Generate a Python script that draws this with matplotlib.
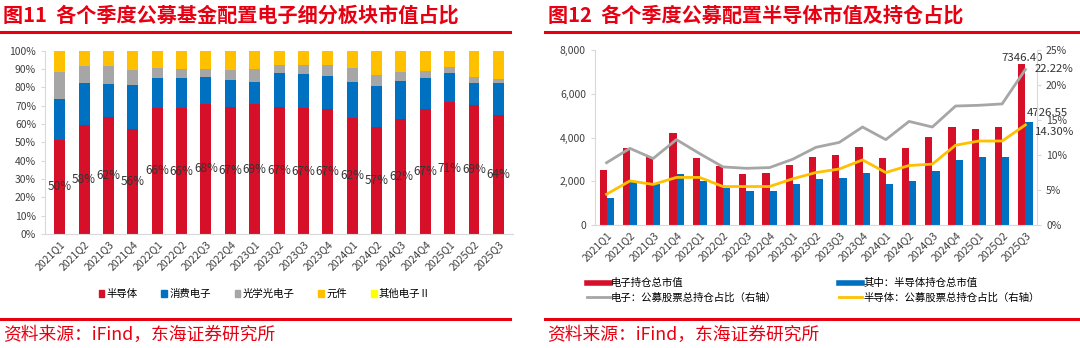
import numpy as np
import matplotlib
matplotlib.use("Agg")
import matplotlib.pyplot as plt
from matplotlib.patches import Patch
from matplotlib.lines import Line2D
from matplotlib.ticker import FuncFormatter

plt.rcParams['font.family'] = ['Noto Sans CJK SC', 'DejaVu Sans']

# quarters shared by both panels
quarters = ['2021Q1', '2021Q2', '2021Q3', '2021Q4', '2022Q1', '2022Q2', '2022Q3', '2022Q4',
            '2023Q1', '2023Q2', '2023Q3', '2023Q4', '2024Q1', '2024Q2', '2024Q3', '2024Q4',
            '2025Q1', '2025Q2', '2025Q3']

# left chart: share of each sub-sector (%)
semi_share = [51.3, 59.3, 63.6, 57.3, 68.9, 68.5, 71.1, 69.3, 70.7, 69.3, 68.5, 68.0,
              63.5, 58.2, 62.7, 68.0, 72.0, 70.5, 64.9]
consumer_share = [22.3, 23.1, 18.0, 23.8, 16.0, 16.4, 14.4, 14.7, 12.4, 18.3, 18.6, 18.2,
                  19.2, 22.5, 20.9, 16.9, 15.6, 11.9, 17.5]
optical_share = [14.9, 9.2, 10.0, 8.2, 5.6, 5.1, 4.5, 5.3, 6.9, 4.8, 5.3, 6.2,
                 7.8, 5.8, 4.8, 3.8, 3.7, 3.4, 2.0]
component_share = [11.1, 8.0, 8.0, 10.3, 9.1, 9.6, 9.6, 10.3, 9.6, 7.2, 7.2, 7.2,
                   9.1, 13.1, 11.2, 10.9, 8.3, 13.8, 15.2]
other_share = [0.4] * 19
semi_labels = ['50%', '58%', '62%', '56%', '66%', '66%', '68%', '67%', '69%', '67%', '67%',
               '67%', '62%', '57%', '62%', '67%', '71%', '69%', '64%']

# right chart: market value (100m CNY) and share of fund holdings (%)
elec_value = [2500, 3537, 3095, 4192, 3064, 2713, 2332, 2363, 2759, 3095, 3201, 3582,
              3064, 3537, 4024, 4466, 4390, 4466, 7346.40]
semi_value = [1250, 1951, 1875, 2317, 2012, 1707, 1570, 1570, 1875, 2104, 2134, 2363,
              1875, 2027, 2470, 2988, 3095, 3095, 4726.55]
elec_pct = [8.9, 10.95, 9.5, 12.2, 10.2, 8.3, 8.1, 8.2, 9.4, 11.1, 11.8, 14.0,
            12.2, 14.8, 14.0, 17.0, 17.1, 17.3, 22.22]
semi_pct = [4.4, 6.3, 5.8, 6.8, 6.8, 5.5, 5.5, 5.5, 6.6, 7.5, 8.0, 9.3,
            7.5, 8.5, 8.7, 11.4, 12.0, 12.0, 14.30]

RED = '#D7102A'
BLUE = '#0070C0'
GRAY = '#A6A6A6'
ORANGE = '#FFC000'
YELLOW = '#FFFF00'
TITLE_RED = '#E60012'
TXT = '#404040'
AXC = '#D9D9D9'

fig = plt.figure(figsize=(10.8, 3.48), dpi=100)
x = np.arange(len(quarters))

# ---- titles, rules, source lines
fig.text(0.003, 0.957, '图11  各个季度公募基金配置电子细分板块市值占比', color=TITLE_RED,
         fontsize=14.5, fontweight='bold', va='center')
fig.text(0.507, 0.957, '图12  各个季度公募配置半导体市值及持仓占比', color=TITLE_RED,
         fontsize=14.5, fontweight='bold', va='center')
for x0, x1 in [(0.0, 0.472), (0.505, 1.0)]:
    fig.add_artist(Line2D([x0, x1], [0.908, 0.908], color=TITLE_RED, lw=2.2))
    fig.add_artist(Line2D([x0, x1], [0.083, 0.083], color=TITLE_RED, lw=2.2))
fig.text(0.003, 0.037, '资料来源：iFind，东海证券研究所', color=TITLE_RED, fontsize=12.8, va='center')
fig.text(0.507, 0.037, '资料来源：iFind，东海证券研究所', color=TITLE_RED, fontsize=12.8, va='center')

# ---- left: stacked share bars
ax1 = fig.add_axes([0.0417, 0.3276, 0.4333, 0.5267])
w = 0.45
bottom = np.zeros(len(quarters))
series = [(semi_share, RED, '半导体'), (consumer_share, BLUE, '消费电子'),
          (optical_share, GRAY, '光学光电子'), (component_share, ORANGE, '元件'),
          (other_share, YELLOW, '其他电子Ⅱ')]
for vals, col, name in series:
    ax1.bar(x, vals, w, bottom=bottom, color=col, label=name)
    bottom += np.array(vals)
for i, lab in enumerate(semi_labels):
    ax1.text(x[i], semi_share[i] / 2, lab, ha='center', va='center', fontsize=8.5, color='#333333')
ax1.set_xlim(-0.6, len(quarters) - 0.4)
ax1.set_ylim(0, 100)
ax1.set_yticks(np.arange(0, 101, 10))
ax1.yaxis.set_major_formatter(FuncFormatter(lambda v, p: f'{v:.0f}%'))
ax1.set_xticks(x)
ax1.set_xticklabels(quarters, rotation=45, ha='right', rotation_mode='anchor')
ax1.tick_params(axis='both', labelsize=7.5, colors=TXT, length=0)
ax1.tick_params(axis='y', length=3, color=AXC)
for s in ['top', 'right']:
    ax1.spines[s].set_visible(False)
for s in ['left', 'bottom']:
    ax1.spines[s].set_color(AXC)
handles = [Patch(color=c, label=n) for _, c, n in series]
fig.legend(handles=handles, loc='center', bbox_to_anchor=(0.245, 0.155), ncol=5, frameon=False,
           fontsize=7.5, handlelength=0.55, handleheight=0.55, handletextpad=0.2, columnspacing=2.3)

# ---- right: value bars + holding share lines
ax2 = fig.add_axes([0.5509, 0.3534, 0.4093, 0.5029])
bw = 0.31
ax2.bar(x - 0.15, elec_value, bw, color=RED)
ax2.bar(x + 0.16, semi_value, bw, color=BLUE)
ax2.set_ylim(0, 8000)
ax2.set_yticks(np.arange(0, 8001, 2000))
ax2.yaxis.set_major_formatter(FuncFormatter(lambda v, p: f'{v:,.0f}'))
ax2.set_xlim(-0.5, len(quarters) - 0.5)
ax2.set_xticks(x)
ax2.set_xticklabels(quarters, rotation=45, ha='right', rotation_mode='anchor')
ax2.tick_params(axis='both', labelsize=7.5, colors=TXT, length=0)
ax2.tick_params(axis='y', length=3, color=AXC)
for s in ['top', 'right']:
    ax2.spines[s].set_visible(False)
for s in ['left', 'bottom']:
    ax2.spines[s].set_color(AXC)

ax3 = ax2.twinx()
ax3.plot(x, elec_pct, color=GRAY, lw=2)
ax3.plot(x, semi_pct, color=ORANGE, lw=2)
ax3.set_ylim(0, 25)
ax3.set_yticks(np.arange(0, 26, 5))
ax3.yaxis.set_major_formatter(FuncFormatter(lambda v, p: f'{v:.0f}%'))
ax3.tick_params(axis='y', labelsize=7.5, colors=TXT, length=3, color=AXC)
for s in ['top', 'left', 'bottom']:
    ax3.spines[s].set_visible(False)
ax3.spines['right'].set_color(AXC)

# value labels on the last quarter
last = len(quarters) - 1
ax2.text(x[last] - 0.15, elec_value[last] + 80, f'{elec_value[last]:.2f}', ha='center', va='bottom',
         fontsize=8.2, color='#333333')
ax2.text(x[last] + 0.07, semi_value[last] + 150, f'{semi_value[last]:.2f}', ha='left', va='bottom',
         fontsize=8.2, color='#333333')
ax3.text(x[last] + 0.4, elec_pct[last], f'{elec_pct[last]:.2f}%', ha='left', va='center',
         fontsize=8.2, color='#333333')
ax3.text(x[last] + 0.4, semi_pct[last] - 1.0, f'{semi_pct[last]:.2f}%', ha='left', va='center',
         fontsize=8.2, color='#333333')

h2 = [Line2D([], [], color=RED, lw=4, label='电子持仓总市值'),
      Line2D([], [], color=GRAY, lw=2, label='电子：公募股票总持仓占比（右轴）'),
      Line2D([], [], color=BLUE, lw=4, label='其中：半导体持仓总市值'),
      Line2D([], [], color=ORANGE, lw=2, label='半导体：公募股票总持仓占比（右轴）')]
fig.legend(handles=h2, loc='center', bbox_to_anchor=(0.753, 0.165), ncol=2, frameon=False,
           fontsize=7.5, handlelength=2.2, handletextpad=0.1, columnspacing=6.0, labelspacing=0.4)

fig.savefig('out.png', dpi=100)
